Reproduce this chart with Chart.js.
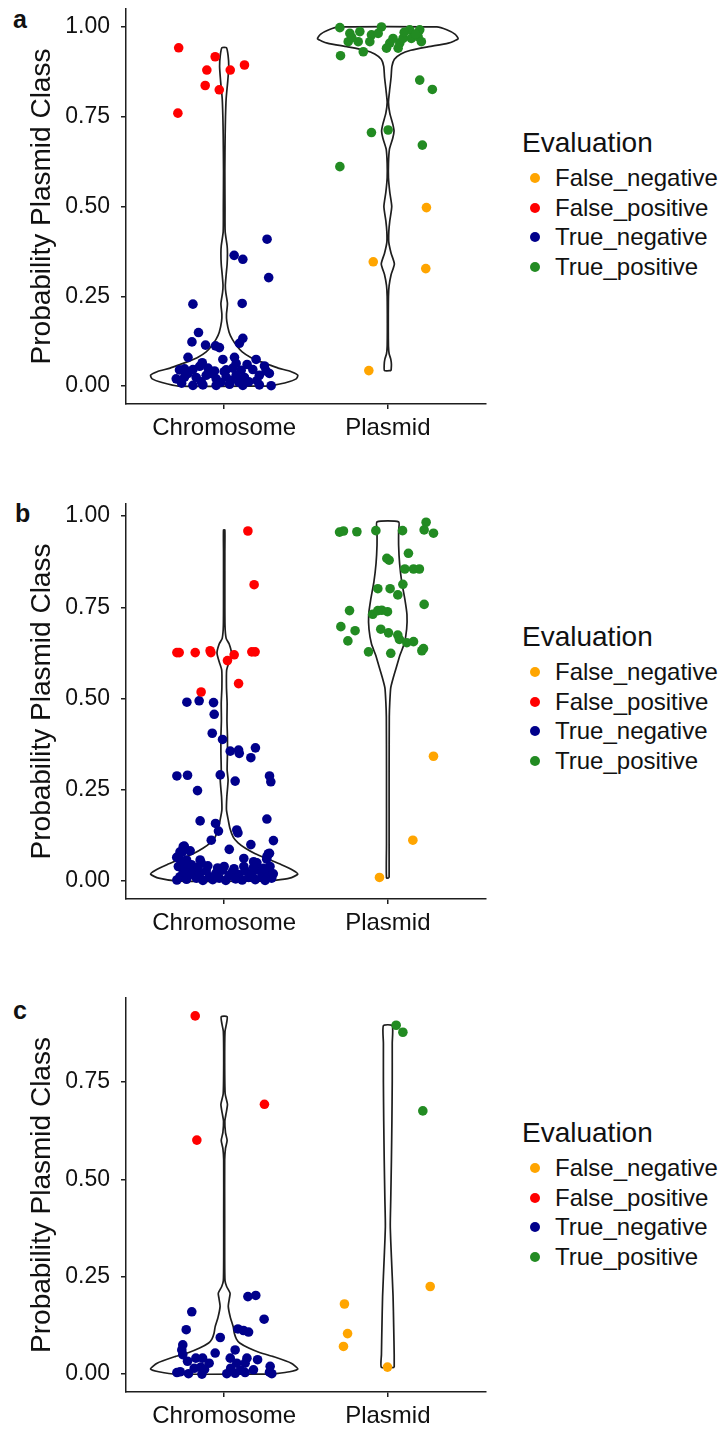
<!DOCTYPE html>
<html>
<head>
<meta charset="utf-8">
<script src="https://cdn.jsdelivr.net/npm/chart.js@4.4.0/dist/chart.umd.min.js"></script>
<style>
body{margin:0;background:#fff;width:725px;height:1431px;position:relative;overflow:hidden;font-family:"Liberation Sans",Arial,sans-serif;color:#111;}
.panel{position:absolute;left:0;width:500px;}
.tag{position:absolute;font-weight:bold;font-size:25px;line-height:30px;height:30px;}
.lgTitle{position:absolute;left:522px;font-size:28px;line-height:34px;height:34px;white-space:nowrap;}
.lgItem{position:absolute;left:555px;font-size:24px;line-height:28px;height:28px;white-space:nowrap;}
.lgDot{position:absolute;left:530px;width:10px;height:10px;border-radius:50%;}
</style>
</head>
<body>
<div class="tag" style="left:13px;top:4px">a</div>
<div class="tag" style="left:15px;top:498px">b</div>
<div class="tag" style="left:13px;top:995px">c</div>
<div class="panel" style="top:0;height:450px"><canvas id="chartA"></canvas></div>
<div class="panel" style="top:480px;height:470px"><canvas id="chartB"></canvas></div>
<div class="panel" style="top:960px;height:471px"><canvas id="chartC"></canvas></div>
<div id="legends"></div>
<script>
// categories, classes, ticks
const categories = ['Chromosome', 'Plasmid'];
const categoryPos = [1, 2];
const classes = ['False_negative', 'False_positive', 'True_negative', 'True_positive'];
const classColors = ['#FFA500', '#FF0000', '#00008B', '#228B22'];
const yTicksAB = [0, 0.25, 0.5, 0.75, 1];
const yTicksC = [0, 0.25, 0.5, 0.75];

// panel a: [jittered x, probability]
const aFalseNeg = [[2.236,0.497],[1.911,0.346],[2.232,0.327],[1.884,0.043]];
const aFalsePos = [[0.722,0.942],[0.945,0.917],[0.894,0.880],[1.037,0.880],[1.124,0.894],[0.884,0.837],[0.970,0.825],[0.717,0.760]];
const aTrueNeg = [[1.262,0.409],[1.061,0.364],[1.114,0.353],[1.272,0.302],[0.809,0.228],[1.110,0.230],
  [0.843,0.149],[0.803,0.123],[0.886,0.114],[0.947,0.112],[0.971,0.107],[1.114,0.133],[1.093,0.119],
  [0.779,0.080],[0.992,0.074],[1.063,0.080],[1.195,0.074],[0.866,0.065],[1.246,0.056],[1.073,0.063],
  [0.727,0.045],[0.758,0.048],[0.809,0.046],[0.901,0.050],[0.941,0.042],[1.012,0.045],[1.053,0.050],
  [1.104,0.044],[1.175,0.046],[1.256,0.042],[0.707,0.020],[0.758,0.025],[0.829,0.024],[0.890,0.030],
  [0.951,0.020],[1.012,0.025],[1.073,0.030],[1.124,0.024],[1.215,0.030],[1.276,0.035],[0.809,0.002],
  [0.870,0.003],[0.951,0.002],[1.033,0.005],[1.114,0.002],[1.215,0.003],[1.287,0.001],[0.780,0.035],
  [0.860,0.012],[0.920,0.035],[0.980,0.010],[1.040,0.015],[1.150,0.012],[1.200,0.015],[0.740,0.008],
  [1.000,0.040],[1.090,0.010],[0.850,0.055],[1.140,0.060]];
const aTruePos = [[1.707,0.998],[1.711,0.920],[1.850,0.931],[2.195,0.852],[2.272,0.826],[1.900,0.706],
  [2.002,0.713],[2.211,0.671],[1.707,0.611],[1.768,0.982],[1.829,0.987],[1.758,0.959],[1.819,0.959],
  [1.900,0.978],[1.890,0.959],[1.961,1.000],[1.941,0.982],[2.012,0.955],[1.992,0.941],[2.073,0.955],
  [2.063,0.941],[2.134,0.992],[2.144,0.968],[2.195,0.992],[2.205,0.959],[2.185,0.973],[2.093,0.968],
  [2.032,0.968],[1.780,0.970],[2.100,0.985],[2.170,0.980]];
// violin outlines: probability and half width
const aChromVY = [0,0.01,0.02,0.03,0.04,0.05,0.06,0.07,0.08,0.095,0.11,0.13,0.15,0.18,0.20,0.23,0.26,0.28,0.31,0.34,0.37,0.39,0.43,0.50,0.60,0.70,0.75,0.80,0.85,0.89,0.92,0.942];
const aChromVW = [0.28,0.38,0.44,0.45,0.41,0.33,0.27,0.21,0.16,0.11,0.08,0.05,0.03,0.016,0.014,0.02,0.01,0.007,0.012,0.018,0.02,0.018,0.006,0.005,0.004,0.006,0.008,0.012,0.022,0.028,0.024,0.014];
const aPlasVY = [0.043,0.06,0.075,0.09,0.11,0.15,0.20,0.25,0.28,0.31,0.34,0.37,0.40,0.43,0.46,0.50,0.54,0.58,0.62,0.66,0.69,0.71,0.73,0.76,0.79,0.82,0.86,0.89,0.91,0.925,0.935,0.945,0.955,0.967,0.98,0.992,1.0];
const aPlasVW = [0.02,0.022,0.018,0.008,0.004,0.003,0.003,0.004,0.008,0.02,0.04,0.02,0.006,0.006,0.012,0.024,0.012,0.004,0.004,0.01,0.03,0.038,0.03,0.012,0.004,0.01,0.02,0.025,0.04,0.08,0.14,0.25,0.37,0.43,0.41,0.36,0.30];

// panel b
const bFalseNeg = [[2.279,0.342],[2.153,0.112],[1.949,0.010]];
const bFalsePos = [[1.145,0.959],[1.183,0.812],[0.711,0.626],[0.725,0.626],[0.823,0.626],[0.914,0.631],[0.919,0.626],
  [1.061,0.620],[1.020,0.604],[1.169,0.628],[1.189,0.628],[1.088,0.541],[0.859,0.518]];
const bTrueNeg = [[0.772,0.490],[0.847,0.494],[0.935,0.489],[0.939,0.457],[0.927,0.405],[0.990,0.388],[1.037,0.356],
  [1.088,0.359],[1.092,0.350],[1.191,0.365],[1.163,0.338],[0.711,0.288],[0.776,0.290],[0.976,0.291],[1.067,0.274],
  [1.277,0.288],[1.285,0.272],[0.837,0.248],[0.853,0.165],[0.947,0.158],[0.965,0.137],[1.077,0.140],[1.084,0.132],
  [1.261,0.170],[1.301,0.111],[0.921,0.112],[1.163,0.100],[1.031,0.087],[0.756,0.096],[0.792,0.083],[0.720,0.067],
  [0.730,0.080],[0.770,0.058],[0.853,0.058],[1.277,0.076],[1.261,0.067],[1.120,0.062],[1.180,0.053],
  [0.711,0.003],[0.730,0.012],[0.750,0.025],[0.770,0.005],[0.790,0.018],[0.810,0.030],[0.830,0.008],[0.850,0.020],
  [0.870,0.002],[0.890,0.028],[0.910,0.012],[0.930,0.004],[0.950,0.022],[0.970,0.008],[0.990,0.030],[1.010,0.002],
  [1.030,0.015],[1.050,0.025],[1.070,0.006],[1.090,0.018],[1.110,0.003],[1.130,0.028],[1.150,0.010],[1.170,0.020],
  [1.190,0.004],[1.210,0.030],[1.230,0.012],[1.250,0.002],[1.270,0.022],[1.290,0.008],[1.300,0.020],[0.720,0.040],
  [0.760,0.035],[0.800,0.045],[0.840,0.038],[0.900,0.042],[0.960,0.036],[1.000,0.040],[1.060,0.034],[1.120,0.040],
  [1.180,0.038],[1.240,0.035],[1.280,0.040],[0.740,0.055],[0.780,0.048],[0.860,0.050],[1.200,0.050],[1.260,0.060],
  [0.710,0.065],[0.745,0.080],[0.750,0.095],[1.270,0.075]];
const bTruePos = [[1.705,0.956],[1.729,0.959],[1.811,0.957],[1.927,0.960],[2.090,0.960],[2.234,0.983],[2.222,0.962],
  [2.279,0.953],[2.126,0.898],[1.994,0.884],[2.008,0.879],[2.104,0.855],[2.157,0.855],[2.193,0.855],[1.939,0.801],
  [2.014,0.801],[2.092,0.813],[2.061,0.784],[2.222,0.758],[1.766,0.741],[1.908,0.731],[1.939,0.741],[1.963,0.742],
  [1.998,0.738],[1.713,0.697],[1.800,0.686],[1.957,0.690],[2.004,0.680],[2.061,0.674],[2.071,0.662],[2.116,0.653],
  [2.157,0.656],[1.756,0.658],[1.882,0.628],[2.018,0.624],[2.208,0.631],[2.218,0.637]];
const bChromVY = [0,0.008,0.019,0.03,0.045,0.06,0.075,0.09,0.105,0.12,0.145,0.167,0.195,0.23,0.277,0.304,0.35,0.395,0.44,0.488,0.53,0.578,0.60,0.625,0.65,0.665,0.70,0.80,0.90,0.962];
const bChromVW = [0.28,0.40,0.45,0.42,0.35,0.27,0.19,0.13,0.085,0.056,0.035,0.025,0.014,0.016,0.024,0.018,0.02,0.02,0.017,0.018,0.014,0.015,0.03,0.044,0.03,0.012,0.005,0.004,0.004,0.004];
const bPlasVY = [0.009,0.10,0.30,0.45,0.49,0.53,0.56,0.59,0.62,0.65,0.69,0.73,0.77,0.82,0.87,0.92,0.96,0.984];
const bPlasVW = [0.008,0.008,0.008,0.009,0.012,0.018,0.035,0.055,0.075,0.10,0.115,0.117,0.105,0.085,0.072,0.066,0.066,0.066];

// panel c
const cFalseNeg = [[1.735,0.180],[1.754,0.104],[1.729,0.071],[2.259,0.225],[1.998,0.018]];
const cFalsePos = [[0.823,0.920],[0.833,0.601],[1.246,0.693]];
const cTrueNeg = [[0.802,0.160],[0.768,0.114],[0.976,0.094],[0.945,0.054],[1.067,0.062],[1.084,0.116],[1.118,0.112],
  [1.149,0.108],[1.145,0.199],[1.193,0.202],[1.244,0.141],[0.747,0.075],[0.741,0.062],[0.747,0.050],[1.204,0.037],
  [1.037,0.041],[1.139,0.041],[1.077,0.028],[1.128,0.028],[1.281,0.020],[1.277,0.005],[0.776,0.033],[0.827,0.041],
  [0.868,0.041],[0.908,0.028],[0.857,0.018],[0.817,0.015],[0.711,0.004],[0.782,0.001],[0.864,0.000],[1.016,0.001],
  [1.067,0.002],[1.128,0.004],[1.179,0.011],[1.291,0.001],[0.731,0.006],[0.880,0.012],[1.100,0.010],[1.040,0.015]];
const cTruePos = [[2.051,0.896],[2.092,0.878],[2.214,0.676]];
const cChromVY = [0,0.006,0.013,0.028,0.045,0.055,0.067,0.08,0.09,0.105,0.122,0.145,0.174,0.195,0.208,0.225,0.24,0.30,0.40,0.55,0.58,0.60,0.62,0.65,0.67,0.693,0.72,0.80,0.88,0.90,0.918];
const cChromVW = [0.29,0.40,0.45,0.41,0.30,0.22,0.15,0.095,0.075,0.062,0.055,0.038,0.025,0.032,0.036,0.015,0.005,0.003,0.003,0.003,0.008,0.018,0.008,0.004,0.012,0.02,0.006,0.003,0.005,0.014,0.018];
const cPlasVY = [0.017,0.05,0.12,0.20,0.30,0.38,0.45,0.55,0.65,0.75,0.85,0.895];
const cPlasVW = [0.039,0.039,0.036,0.032,0.022,0.015,0.018,0.022,0.025,0.027,0.027,0.027];

Chart.defaults.font.family = "'Liberation Sans', Arial, sans-serif";
Chart.defaults.color = '#111';

function violin(center, ys, ws) {
  const right = ys.map((y, i) => ({x: center + ws[i], y: y}));
  const left = ys.map((y, i) => ({x: center - ws[i], y: y})).reverse();
  return right.concat(left, [right[0]]);
}

function toPts(arr) {
  return arr.map(p => ({x: p[0], y: p[1]}));
}

function drawPanel(id, groups, violins, yMin, yMax, yTicks, padTop, xHeight) {
  var datasets = [];
  groups.forEach(function(g, i) {
    datasets.push({
      label: classes[i], data: toPts(g), order: 1,
      backgroundColor: classColors[i], borderWidth: 0,
      pointRadius: 4.8, pointHoverRadius: 4.8
    });
  });
  violins.forEach(function(v, i) {
    datasets.push({
      label: 'violin ' + categories[i], data: violin(categoryPos[i], v[0], v[1]), order: 2,
      showLine: true, fill: false, tension: 0.2,
      borderColor: '#1e1e1e', borderWidth: 1.7, pointRadius: 0, pointHoverRadius: 0
    });
  });

  new Chart(document.getElementById(id), {
    type: 'scatter',
    data: {datasets: datasets},
    options: {
      responsive: true,
      maintainAspectRatio: false,
      animation: false,
      devicePixelRatio: 1,
      layout: {padding: {top: padTop, right: 14, left: 0, bottom: 0}},
      plugins: {legend: {display: false}, tooltip: {enabled: false}},
      scales: {
        x: {
          type: 'linear', min: 0.4, max: 2.6,
          afterBuildTicks: function(s) { s.ticks = categoryPos.map(v => ({value: v})); },
          afterFit: function(s) { s.height = xHeight; s.paddingLeft = 0; s.paddingRight = 0; s.paddingTop = 0; s.paddingBottom = 0; },
          ticks: {callback: (v, i) => categories[i], font: {size: 24}, color: '#111', padding: 5, autoSkip: false, maxRotation: 0},
          grid: {display: true, drawOnChartArea: false, drawTicks: true, tickLength: 5, color: '#1e1e1e', lineWidth: 1.5},
          border: {display: true, color: '#1e1e1e', width: 1.5}
        },
        y: {
          type: 'linear', min: yMin, max: yMax,
          afterBuildTicks: function(s) { s.ticks = yTicks.map(v => ({value: v})); },
          afterFit: function(s) { s.width = 126; s.paddingLeft = 0; s.paddingRight = 0; s.paddingTop = 0; s.paddingBottom = 0; },
          ticks: {callback: v => v.toFixed(2), font: {size: 23}, color: '#111', padding: 11},
          grid: {display: true, drawOnChartArea: false, drawTicks: true, tickLength: 5, color: '#1e1e1e', lineWidth: 1.5},
          border: {display: true, color: '#1e1e1e', width: 1.5},
          title: {display: true, text: 'Probability Plasmid Class', font: {size: 28}, color: '#111', padding: {top: 25, bottom: 0}}
        }
      }
    }
  });
}

drawPanel('chartA', [aFalseNeg, aFalsePos, aTrueNeg, aTruePos],
  [[aChromVY, aChromVW], [aPlasVY, aPlasVW]], -0.05, 1.05, yTicksAB, 9, 46);
drawPanel('chartB', [bFalseNeg, bFalsePos, bTrueNeg, bTruePos],
  [[bChromVY, bChromVW], [bPlasVY, bPlasVW]], -0.049, 1.033, yTicksAB, 24, 51);
drawPanel('chartC', [cFalseNeg, cFalsePos, cTrueNeg, cTruePos],
  [[cChromVY, cChromVW], [cPlasVY, cPlasVW]], -0.046, 0.966, yTicksC, 38, 39);

// legends, one per panel
var legendTops = [0, 494, 990];
var html = '';
legendTops.forEach(function(off) {
  html += '<div class="lgTitle" style="top:' + (126 + off) + 'px">Evaluation</div>';
  classes.forEach(function(name, i) {
    var cy = 178 + off + i * 29.7;
    html += '<div class="lgDot" style="top:' + (cy - 5) + 'px;background:' + classColors[i] + '"></div>';
    html += '<div class="lgItem" style="top:' + (cy - 14) + 'px">' + name + '</div>';
  });
});
document.getElementById('legends').innerHTML = html;
</script>
</body>
</html>
